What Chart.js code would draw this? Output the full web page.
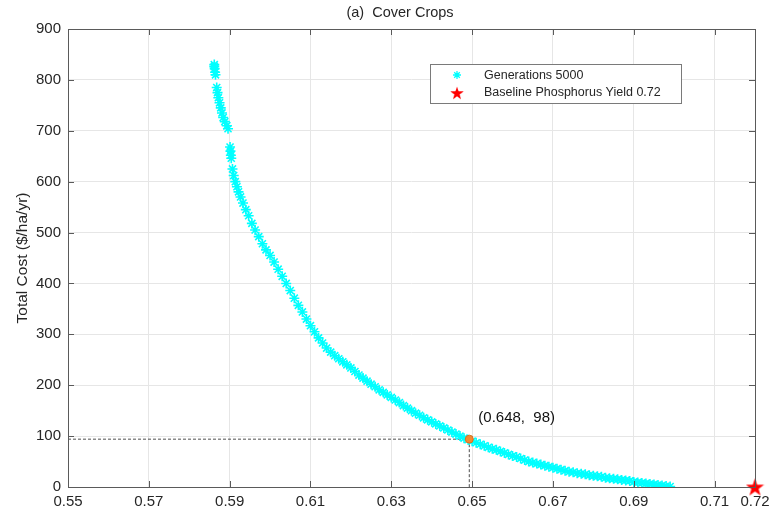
<!DOCTYPE html>
<html>
<head>
<meta charset="utf-8">
<script src="https://cdn.jsdelivr.net/npm/chart.js@4.4.1/dist/chart.umd.min.js"></script>
<style>
  html, body { margin: 0; padding: 0; background: #fff; }
  #wrap { width: 774px; height: 517px; }
</style>
</head>
<body>
<div id="wrap"><canvas id="myChart" width="774" height="517"></canvas></div>
<script>
var xTicks = [0.55, 0.57, 0.59, 0.61, 0.63, 0.65, 0.67, 0.69, 0.71, 0.72];
var yTicks = [0, 100, 200, 300, 400, 500, 600, 700, 800, 900];

// pareto front after 5000 generations (phosphorus yield vs cost)
var paretoYield = [
  0.5862, 0.5863, 0.5864, 0.5862, 0.5865,
  0.5868, 0.5870, 0.5872, 0.5875, 0.5878, 0.5881, 0.5884, 0.5888, 0.5893, 0.5896,
  0.5901, 0.5902, 0.5903, 0.5904,
  0.5907, 0.5910, 0.5914, 0.5918, 0.5922, 0.5927, 0.5933, 0.5940, 0.5947, 0.5955,
  0.5963, 0.5972, 0.5981, 0.5990, 0.6000, 0.6010, 0.6020, 0.6030, 0.6040, 0.6050,
  0.6060, 0.6070, 0.6080, 0.6090, 0.6100, 0.6110, 0.6120, 0.6130, 0.6140, 0.6150,
  0.6160, 0.6170, 0.6180, 0.6190, 0.6200, 0.6210, 0.6220, 0.6230, 0.6240, 0.6250,
  0.6260, 0.6270, 0.6280, 0.6290, 0.6300, 0.6310, 0.6320, 0.6330, 0.6340, 0.6350,
  0.6360, 0.6370, 0.6380, 0.6390, 0.6400, 0.6410, 0.6420, 0.6430, 0.6440, 0.6450,
  0.6460, 0.6470, 0.6480, 0.6490, 0.6500, 0.6510, 0.6520, 0.6530, 0.6540, 0.6550,
  0.6560, 0.6570, 0.6580, 0.6590, 0.6600, 0.6610, 0.6620, 0.6630, 0.6640, 0.6650,
  0.6660, 0.6670, 0.6680, 0.6690, 0.6700, 0.6710, 0.6720, 0.6730, 0.6740, 0.6750,
  0.6760, 0.6770, 0.6780, 0.6790, 0.6800, 0.6810, 0.6820, 0.6830, 0.6840, 0.6850,
  0.6860, 0.6870, 0.6880, 0.6890, 0.6900, 0.6910, 0.6920, 0.6930, 0.6940, 0.6950,
  0.6960, 0.6970, 0.6980, 0.6990
];
var paretoCost = [
  830, 822, 815, 826, 810,
  785, 775, 765, 755, 745, 735, 726, 718, 710, 704,
  668, 660, 652, 646,
  625, 612, 600, 590, 580, 570, 558, 545, 533, 518,
  505, 492, 478, 466, 455, 442, 428, 414, 400, 386,
  371, 357, 344, 330, 317, 305, 293, 283, 273, 265,
  258, 252, 246, 240, 234, 227, 220, 214, 208, 202,
  197, 191, 186, 181, 176, 171, 166, 160, 155, 150,
  145, 141, 136, 132, 128, 124, 120, 116, 112, 108,
  104, 100, 96, 93, 90, 87, 84, 81, 78, 75,
  73, 70, 67, 64, 61, 59, 56, 53, 50, 48,
  46, 44, 42, 40, 38, 36, 34, 32, 30, 29,
  27, 26, 25, 23, 22, 21, 20, 18, 17, 16,
  15, 14, 13, 12, 10, 9, 8, 7, 6, 5,
  4, 3, 2, 1
];

var baselineYield = [0.72];
var baselineCost = [0];
var pickedYield = 0.6493;
var pickedCost = 94;
var pickedLabel = "(0.648,  98)";

var fontName = "'Liberation Sans', Arial, Helvetica, sans-serif";
var textColor = "#262626";

function makeStar(size, color) {
  var c = document.createElement("canvas");
  c.width = size; c.height = size;
  var g = c.getContext("2d");
  var cx = size / 2, cy = size / 2 + size * 0.04;
  var outer = size / 2, inner = outer * 0.4;
  g.beginPath();
  for (var i = 0; i < 10; i++) {
    var r = i % 2 == 0 ? outer : inner;
    var a = -Math.PI / 2 + i * Math.PI / 5;
    g.lineTo(cx + r * Math.cos(a), cy + r * Math.sin(a));
  }
  g.closePath();
  g.fillStyle = color;
  g.fill();
  return c;
}
var redStar = makeStar(19, "#ff0000");

var pareto = [];
for (var i = 0; i < paretoYield.length; i++) pareto.push({x: paretoYield[i], y: paretoCost[i]});
var baseline = [];
for (var i = 0; i < baselineYield.length; i++) baseline.push({x: baselineYield[i], y: baselineCost[i]});

// box, inward ticks, title, legend and point label
var decorations = {
  id: "decorations",
  afterDraw: function(chart) {
    var ctx = chart.ctx, a = chart.chartArea;
    var xs = chart.scales.x, ys = chart.scales.y;
    ctx.save();
    ctx.strokeStyle = "#5a5a5a";
    ctx.lineWidth = 1;
    ctx.strokeRect(Math.round(a.left) + 0.5, Math.round(a.top) + 0.5, Math.round(a.right - a.left), Math.round(a.bottom - a.top));
    ctx.beginPath();
    xTicks.forEach(function(v) {
      var px = Math.round(xs.getPixelForValue(v)) + 0.5;
      ctx.moveTo(px, a.bottom); ctx.lineTo(px, a.bottom - 6);
      ctx.moveTo(px, a.top); ctx.lineTo(px, a.top + 6);
    });
    yTicks.forEach(function(v) {
      var py = Math.round(ys.getPixelForValue(v)) + 0.5;
      ctx.moveTo(a.left, py); ctx.lineTo(a.left + 6, py);
      ctx.moveTo(a.right, py); ctx.lineTo(a.right - 6, py);
    });
    ctx.stroke();

    ctx.fillStyle = textColor;
    ctx.font = "14.5px " + fontName;
    ctx.textAlign = "center";
    ctx.textBaseline = "middle";
    ctx.fillText("(a)  Cover Crops", 400, 13);

    ctx.textAlign = "left";
    ctx.textBaseline = "alphabetic";
    ctx.font = "15px " + fontName;
    ctx.fillStyle = "#111";
    ctx.fillText(pickedLabel, xs.getPixelForValue(pickedYield) + 9, ys.getPixelForValue(pickedCost) - 17);

    // legend
    ctx.fillStyle = "#fff";
    ctx.fillRect(430.5, 64.5, 251, 39);
    ctx.strokeStyle = "#7a7a7a";
    ctx.strokeRect(430.5, 64.5, 251, 39);
    ctx.strokeStyle = "#00ffff";
    ctx.lineWidth = 1.3;
    ctx.beginPath();
    var lx = 457, ly = 75, r = 4;
    ctx.moveTo(lx - r, ly); ctx.lineTo(lx + r, ly);
    ctx.moveTo(lx, ly - r); ctx.lineTo(lx, ly + r);
    ctx.moveTo(lx - r * 0.7, ly - r * 0.7); ctx.lineTo(lx + r * 0.7, ly + r * 0.7);
    ctx.moveTo(lx - r * 0.7, ly + r * 0.7); ctx.lineTo(lx + r * 0.7, ly - r * 0.7);
    ctx.stroke();
    ctx.drawImage(redStar, 457 - 7, 93 - 7, 14, 14);
    ctx.fillStyle = textColor;
    ctx.font = "12.5px " + fontName;
    ctx.textBaseline = "middle";
    ctx.fillText("Generations 5000", 484, 76);
    ctx.fillText("Baseline Phosphorus Yield 0.72", 484, 93);
    ctx.restore();
  }
};

new Chart("myChart", {
  type: "scatter",
  data: {
    datasets: [
      {
        label: "Generations 5000",
        data: pareto,
        pointStyle: "star",
        pointRadius: 5,
        borderColor: "#00ffff",
        backgroundColor: "#00ffff",
        borderWidth: 1.6,
        order: 2
      },
      {
        label: "guide h",
        type: "line",
        data: [{x: xTicks[0], y: pickedCost}, {x: pickedYield, y: pickedCost}],
        borderColor: "#222",
        borderWidth: 0.8,
        borderDash: [3, 2],
        pointRadius: 0,
        order: 3
      },
      {
        label: "guide v",
        type: "line",
        data: [{x: pickedYield, y: pickedCost}, {x: pickedYield, y: yTicks[0]}],
        borderColor: "#222",
        borderWidth: 0.8,
        borderDash: [3, 2],
        pointRadius: 0,
        order: 3
      },
      {
        label: "picked",
        data: [{x: pickedYield, y: pickedCost}],
        pointStyle: "circle",
        pointRadius: 4,
        backgroundColor: "#f08a36",
        borderColor: "#d9701f",
        borderWidth: 1,
        order: 0
      },
      {
        label: "Baseline Phosphorus Yield 0.72",
        data: baseline,
        pointStyle: redStar,
        order: 0,
        clip: false
      }
    ]
  },
  options: {
    responsive: false,
    animation: false,
    layout: {padding: {top: 29, right: 19, left: 0, bottom: 0}},
    plugins: {
      legend: {display: false},
      tooltip: {enabled: false},
      title: {display: false}
    },
    scales: {
      x: {
        type: "linear",
        min: 0.55,
        max: 0.72,
        afterBuildTicks: function(scale) {
          scale.ticks = xTicks.map(function(v) { return {value: v}; });
        },
        afterFit: function(scale) {
          scale.height = 30;
          scale.paddingLeft = 0;
          scale.paddingRight = 0;
        },
        ticks: {
          autoSkip: false,
          maxRotation: 0,
          padding: 6,
          color: textColor,
          font: {family: fontName, size: 15},
          callback: function(v) { return v.toFixed(2); }
        },
        grid: {color: "#e6e6e6", drawTicks: false},
        border: {display: false}
      },
      y: {
        min: 0,
        max: 900,
        afterBuildTicks: function(scale) {
          scale.ticks = yTicks.map(function(v) { return {value: v}; });
        },
        afterFit: function(scale) { scale.width = 68; },
        ticks: {
          padding: 7,
          color: textColor,
          font: {family: fontName, size: 15}
        },
        title: {
          display: true,
          text: "Total Cost ($/ha/yr)",
          color: textColor,
          font: {family: fontName, size: 15.5},
          padding: {top: 13, bottom: 0}
        },
        grid: {color: "#e6e6e6", drawTicks: false},
        border: {display: false}
      }
    }
  },
  plugins: [decorations]
});
</script>
</body>
</html>
